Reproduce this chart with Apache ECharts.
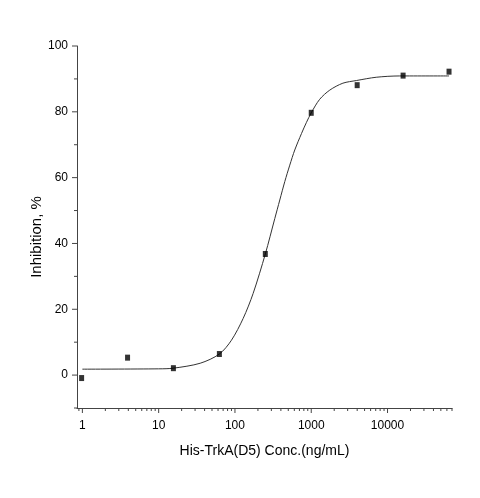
<!DOCTYPE html>
<html>
<head>
<meta charset="utf-8">
<script src="https://cdn.jsdelivr.net/npm/echarts@6/dist/echarts.min.js"></script>
<style>
html,body{margin:0;padding:0;background:#fff;}
#chart{width:480px;height:498px;}
</style>
</head>
<body>
<div id="chart"></div>
<script>
// Measured points (ng/mL, % inhibition)
var concentrations = [0.977, 3.91, 15.6, 62.5, 250, 1000, 4000, 16000, 64000];
var inhibition = [-0.9, 5.3, 2.1, 6.4, 36.8, 79.7, 88.1, 91.0, 92.2];

// Fitted curve
var fitX = [1, 10, 15.6, 35, 62.5, 90, 128, 173, 250, 333, 387, 450, 523, 608, 745, 866, 1000, 1290, 1750, 2600, 3900, 7100, 14400, 64000];
var fitY = [1.8, 1.9, 2.1, 3.6, 6.4, 10.6, 17.2, 24.8, 36.8, 47.6, 53.2, 58.8, 63.8, 68.4, 73.4, 76.8, 79.7, 83.8, 86.6, 88.7, 89.5, 90.5, 90.9, 90.9];

// Tick values
var xMajorTicks = [1, 10, 100, 1000, 10000];
var xMinorSteps = [2, 3, 4, 5, 6, 7, 8, 9];
var yMajorTicks = [0, 20, 40, 60, 80, 100];
var yMinorTicks = [-10, 10, 30, 50, 70, 90];

var xMin = 0.85, xMax = 70000, yMin = -10, yMax = 100;

var labelFont = "'Liberation Sans',Arial,sans-serif";

var xTickData = [];
xMajorTicks.forEach(function (v) { xTickData.push([v, yMin, 5]); });
[0.1].concat(xMajorTicks).forEach(function (d) {
  xMinorSteps.forEach(function (s) {
    var v = d * s;
    if (v >= xMin && v <= xMax * 1.0001) xTickData.push([v, yMin, 3]);
  });
});
var yTickData = [];
yMajorTicks.forEach(function (v) { yTickData.push([xMin, v, 5]); });
yMinorTicks.forEach(function (v) { yTickData.push([xMin, v, 3]); });

var chart = echarts.init(document.getElementById('chart'));
chart.setOption({
  animation: false,
  backgroundColor: '#fff',
  grid: { left: 77, right: 28, top: 46, bottom: 90, containLabel: false, outerBoundsMode: 'none' },
  xAxis: {
    type: 'log',
    logBase: 10,
    min: xMin,
    max: xMax,
    name: 'His-TrkA(D5) Conc.(ng/mL)',
    nameLocation: 'middle',
    nameGap: 36,
    nameMoveOverlap: false,
    nameTextStyle: { fontFamily: labelFont, fontSize: 14, color: '#000' },
    axisLine: { show: true, onZero: false, lineStyle: { color: '#444', width: 1 } },
    axisTick: { show: false },
    minorTick: { show: false },
    splitLine: { show: false },
    axisLabel: {
      margin: 12,
      fontFamily: labelFont,
      fontSize: 12,
      color: '#000',
      showMinLabel: false,
      showMaxLabel: false,
      formatter: function (v) {
        var l = Math.log10(v);
        if (Math.abs(l - Math.round(l)) < 1e-6) return String(Math.round(Math.pow(10, Math.round(l))));
        return '';
      }
    }
  },
  yAxis: {
    type: 'value',
    min: yMin,
    max: yMax,
    interval: 10,
    name: 'Inhibition, %',
    nameLocation: 'middle',
    nameGap: 33,
    nameMoveOverlap: false,
    nameTextStyle: { fontFamily: labelFont, fontSize: 15, color: '#000', padding: [0, 20, 0, 0] },
    axisLine: { show: true, onZero: false, lineStyle: { color: '#444', width: 1 } },
    axisTick: { show: false },
    splitLine: { show: false },
    axisLabel: {
      margin: 9,
      fontFamily: labelFont,
      fontSize: 12,
      color: '#000',
      formatter: function (v) {
        return (Math.round(v) % 20 === 0) ? String(Math.round(v)) : '';
      }
    }
  },
  series: [
    {
      type: 'line',
      data: fitX.map(function (x, i) { return [x, fitY[i]]; }),
      smooth: 0.3,
      showSymbol: false,
      lineStyle: { color: '#333', width: 1 },
      z: 2
    },
    {
      type: 'scatter',
      data: concentrations.map(function (x, i) { return [x, inhibition[i]]; }),
      symbol: 'rect',
      symbolSize: [5, 6],
      itemStyle: { color: '#000' },
      z: 3
    },
    {
      type: 'custom',
      clip: false,
      silent: true,
      data: xTickData,
      renderItem: function (params, api) {
        var p = api.coord([api.value(0), api.value(1)]);
        var len = api.value(2);
        return { type: 'line', shape: { x1: p[0], y1: p[1], x2: p[0], y2: p[1] + len }, style: { stroke: '#444', lineWidth: 1 } };
      },
      z: 4
    },
    {
      type: 'custom',
      clip: false,
      silent: true,
      data: yTickData,
      renderItem: function (params, api) {
        var p = api.coord([api.value(0), api.value(1)]);
        var len = api.value(2);
        return { type: 'line', shape: { x1: p[0], y1: p[1], x2: p[0] - len, y2: p[1] }, style: { stroke: '#444', lineWidth: 1 } };
      },
      z: 4
    }
  ]
});
</script>
</body>
</html>
